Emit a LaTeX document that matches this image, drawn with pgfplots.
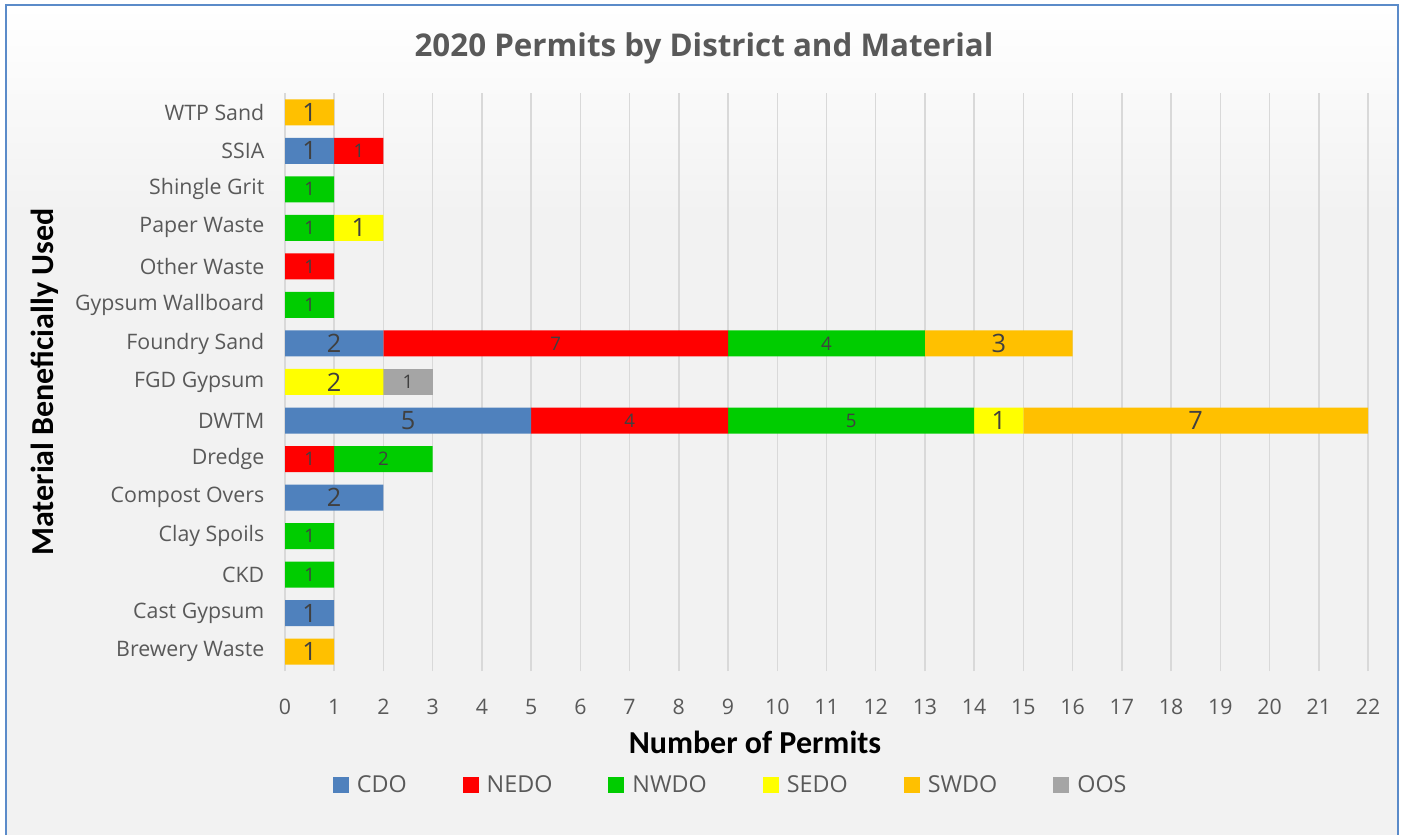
\documentclass[border=0pt]{standalone}
\usepackage{pgfplots}
\usepackage{pgfplotstable}
\pgfplotsset{compat=1.18}
\usepackage{fontspec}
\setmainfont{Open Sans}
\newfontfamily\calib{Carlito}

\definecolor{cdo}{HTML}{4F81BD}
\definecolor{nedo}{HTML}{FF0000}
\definecolor{nwdo}{HTML}{00CC00}
\definecolor{sedo}{HTML}{FFFF00}
\definecolor{swdo}{HTML}{FFC000}
\definecolor{oos}{HTML}{A5A5A5}
\definecolor{bggray}{HTML}{F2F2F2}
\definecolor{gridgray}{HTML}{D9D9D9}
\definecolor{frame}{HTML}{5B8BC9}
\definecolor{ticktext}{HTML}{595959}
\definecolor{labtext}{HTML}{404040}

% y: 0 = Brewery Waste ... 14 = WTP Sand
\pgfplotstableread{
y  cdo nedo nwdo sedo swdo oos
0  0   0    0    0    1    0
1  1   0    0    0    0    0
2  0   0    1    0    0    0
3  0   0    1    0    0    0
4  2   0    0    0    0    0
5  0   1    2    0    0    0
6  5   4    5    1    7    0
7  0   0    0    2    0    1
8  2   7    4    0    3    0
9  0   0    1    0    0    0
10 0   1    0    0    0    0
11 0   0    1    1    0    0
12 0   0    1    0    0    0
13 1   1    0    0    0    0
14 0   0    0    0    1    0
}\permits

\pgfplotsset{
  biglab/.style={every node near coord/.append style={text=labtext, font=\fontsize{19}{22}\selectfont}},
  smalllab/.style={every node near coord/.append style={text=labtext, font=\fontsize{14}{17}\selectfont}},
}

\begin{document}
\begin{tikzpicture}
% chart area (1 px of the reference = 0.75pt)
\fill[white] (0pt,0pt) rectangle (1052.25pt,626.25pt);
\fill[bggray] (4.5pt,0pt) rectangle (1048.5pt,465pt);
\shade[top color=white, bottom color=bggray] (4.5pt,465pt) rectangle (1048.5pt,622.5pt);
\draw[frame, line width=1.2pt] (4.5pt,0pt) -- (4.5pt,622.5pt) -- (1048.5pt,622.5pt) -- (1048.5pt,0pt);

\begin{axis}[
  at={(213.75pt,123pt)}, anchor=south west,
  scale only axis,
  width=812.25pt, height=433.5pt,
  xbar stacked,
  bar width=19.5pt,
  xmin=0, xmax=22,
  ymin=-0.5, ymax=14.5,
  xtick={0,...,22},
  ytick={0,...,14},
  yticklabels={Brewery Waste, Cast Gypsum, CKD, Clay Spoils, Compost Overs,
    Dredge, DWTM, FGD Gypsum, Foundry Sand, Gypsum Wallboard, Other Waste,
    Paper Waste, Shingle Grit, SSIA, WTP Sand},
  xmajorgrids,
  grid style={gridgray, line width=1.1pt},
  axis line style={draw=none},
  major tick length=0pt,
  /pgf/number format/assume math mode=true,
  tick label style={text=ticktext, font=\fontsize{16}{19}\selectfont},
  xticklabel style={anchor=center, yshift=-27pt},
  yticklabel style={anchor=east, xshift=-12pt},
  nodes near coords={\pgfmathfloatifflags{\pgfplotspointmeta}{0}{}{\pgfmathprintnumber{\pgfplotspointmeta}}},
  nodes near coords align={anchor=center},
  legend columns=6,
  legend style={at={(axis description cs:0.4118,-0.197)}, anchor=center,
    draw=none, fill=none, text=ticktext,
    font=\fontsize{17.5}{20}\selectfont,
    /tikz/every odd column/.append style={column sep=4pt},
    /tikz/every even column/.append style={column sep=40pt}},
  every axis plot post/.append style={
    legend image code/.code={\fill[##1] (0pt,-6pt) rectangle (12pt,6pt);}},
]
\addplot[fill=cdo, draw=none, biglab, point meta=\thisrow{cdo}] table[x=cdo, y=y] {\permits};
\addlegendentry{CDO}
\addplot[fill=nedo, draw=none, smalllab, point meta=\thisrow{nedo}] table[x=nedo, y=y] {\permits};
\addlegendentry{NEDO}
\addplot[fill=nwdo, draw=none, smalllab, point meta=\thisrow{nwdo}] table[x=nwdo, y=y] {\permits};
\addlegendentry{NWDO}
\addplot[fill=sedo, draw=none, biglab, point meta=\thisrow{sedo}] table[x=sedo, y=y] {\permits};
\addlegendentry{SEDO}
\addplot[fill=swdo, draw=none, biglab, point meta=\thisrow{swdo}] table[x=swdo, y=y] {\permits};
\addlegendentry{SWDO}
\addplot[fill=oos, draw=none, smalllab, point meta=\thisrow{oos}] table[x=oos, y=y] {\permits};
\addlegendentry{OOS}
\end{axis}

\node[text=ticktext, font=\fontsize{23.5}{28}\selectfont\bfseries] at (528pt,590.25pt)
  {2020 Permits by District and Material};
\node[rotate=90, font=\calib\bfseries\fontsize{24}{28}\selectfont] at (33.75pt,339.75pt)
  {Material Beneficially Used};
\node[font=\calib\bfseries\fontsize{24}{28}\selectfont] at (566.25pt,69.75pt)
  {Number of Permits};
\end{tikzpicture}
\end{document}
